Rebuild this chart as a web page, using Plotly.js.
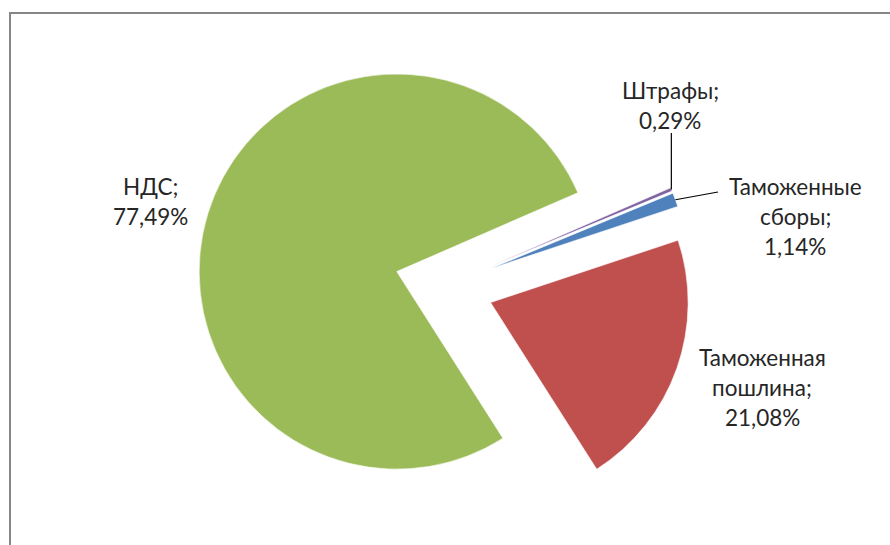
<!DOCTYPE html>
<html>
<head>
<meta charset="utf-8">
<script src="https://cdn.plot.ly/plotly-3.0.1.min.js"></script>
<style>html,body{margin:0;padding:0;background:#fff;}#chart{width:890px;height:545px;}</style>
</head>
<body>
<div id="chart"></div>
<script>
// ---- data ----
const categories = ['НДС', 'Штрафы', 'Таможенные сборы', 'Таможенная пошлина'];
const values = [77.49, 0.29, 1.14, 21.08];
const labelLines = [['НДС;'], ['Штрафы;'], ['Таможенные', 'сборы;'], ['Таможенная', 'пошлина;']];

// ---- styles / layout ----
const colors = ['#9BBB59', '#8064A2', '#4F81BD', '#C0504D'];
const W = 890, H = 545;
const M = {l: 0, r: 2, t: 39, b: 12};
const pull = 0.25;
const rotation = 147.5;
const fontFamily = 'Lato, "Open Sans", "DejaVu Sans", sans-serif';
const fontSize = 22.5;
const lineStep = 30;
// first-line centre of each label (pixels)
const labelPos = [[150, 187], [670, 90], [795, 186], [762, 357]];
// leader line target (label side) for small slices, null if none; x null = vertical
const leaderEnd = [null, [null, 133], [718, 192], null];

const pw = W - M.l - M.r, ph = H - M.t - M.b;
const px = x => (x - M.l) / pw;
const py = y => 1 - (y - M.t) / ph;

const annotations = [];
labelLines.forEach((lines, i) => {
  const all = lines.concat([values[i].toFixed(2).replace('.', ',') + '%']);
  all.forEach((txt, j) => {
    annotations.push({
      xref: 'paper', yref: 'paper',
      x: px(labelPos[i][0]), y: py(labelPos[i][1] + j * lineStep),
      xanchor: 'center', yanchor: 'middle',
      text: txt, showarrow: false,
      font: {family: fontFamily, size: fontSize, color: '#262626'}
    });
  });
});

// leader lines start at the outer edge of the slice (computed from the data)
const total = values.reduce((a, b) => a + b, 0);
const cx = M.l + pw / 2, cy = M.t + ph / 2;
const r = Math.min(pw, ph) / (2 * (1 + pull));
const shapes = [];
let cum = 0;
values.forEach((v, i) => {
  const mid = (rotation + 360 * (cum + v / 2) / total) * Math.PI / 180;
  cum += v;
  if (!leaderEnd[i]) return;
  const sx = cx + r * (1 + pull) * Math.sin(mid);
  const sy = cy - r * (1 + pull) * Math.cos(mid);
  const ex = leaderEnd[i][0] === null ? sx : leaderEnd[i][0];
  shapes.push({type: 'line', xref: 'paper', yref: 'paper',
    x0: px(sx), y0: py(sy), x1: px(ex), y1: py(leaderEnd[i][1]),
    line: {color: '#000000', width: 1.2}});
});
// chart frame (only top & left visible in the reference)
shapes.push({type: 'rect', xref: 'paper', yref: 'paper',
  x0: px(10), y0: py(13), x1: px(W + 20), y1: py(H + 20),
  line: {color: '#868686', width: 2}, fillcolor: 'rgba(0,0,0,0)'});

const trace = {
  type: 'pie',
  labels: categories,
  values: values,
  sort: false,
  direction: 'clockwise',
  rotation: rotation,
  pull: values.map(() => pull),
  marker: {colors: colors, line: {color: '#ffffff', width: 0.6}},
  textinfo: 'none',
  hoverinfo: 'none',
  showlegend: false
};

Plotly.newPlot('chart', [trace], {
  width: W, height: H,
  margin: M,
  paper_bgcolor: '#ffffff',
  showlegend: false,
  annotations: annotations,
  shapes: shapes
}, {displayModeBar: false, staticPlot: true});
</script>
</body>
</html>
